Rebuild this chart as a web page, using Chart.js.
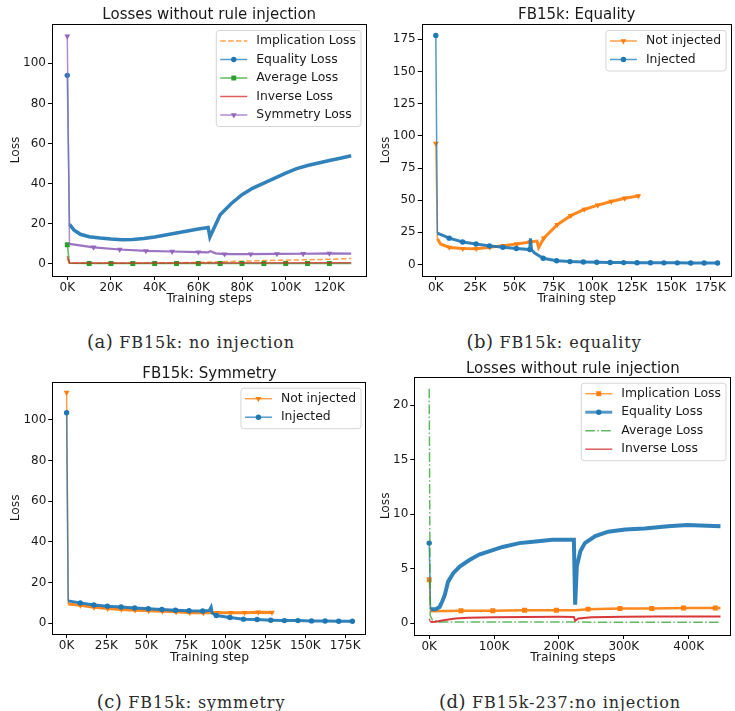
<!DOCTYPE html>
<html>
<head>
<meta charset="utf-8">
<script src="https://cdn.jsdelivr.net/npm/chart.js@4.4.1/dist/chart.umd.min.js"></script>
<style>
  body { margin: 0; background: #fff; width: 735px; height: 711px; position: relative; overflow: hidden; }
  canvas { position: absolute; }
  .cap { position: absolute; font-family: 'DejaVu Serif', 'Liberation Serif', serif; font-size: 16px; letter-spacing: 0.9px; color: #2a2a2a; white-space: nowrap; transform: translate(-50%, -50%); }
  .cap span { font-size: 18px; letter-spacing: 0.5px; }
</style>
</head>
<body>
<canvas id="chartA" width="370" height="312" style="left:0;top:0"></canvas>
<canvas id="chartB" width="365" height="312" style="left:370px;top:0"></canvas>
<canvas id="chartC" width="370" height="312" style="left:0;top:360px"></canvas>
<canvas id="chartD" width="365" height="312" style="left:370px;top:360px"></canvas>
<div class="cap" style="left:191px;top:341px"><span>(a)</span> FB15k: no injection</div>
<div class="cap" style="left:554px;top:341px"><span>(b)</span> FB15k: equality</div>
<div class="cap" style="left:191px;top:701px"><span>(c)</span> FB15k: symmetry</div>
<div class="cap" style="left:560px;top:701px"><span>(d)</span> FB15k-237:no injection</div>
<script>
// (a) FB15k, no injection
const aStepTicks = [0, 20000, 40000, 60000, 80000, 100000, 120000];
const aLossTicks = [0, 20, 40, 60, 80, 100];
const aImplicationSteps = [0, 1000, 20000, 40000, 50000, 60000, 70000, 80000, 90000, 100000, 110000, 120000, 130000];
const aImplicationLoss = [2.5, 0.3, 0.3, 0.45, 0.6, 0.75, 1.1, 1.4, 1.7, 1.9, 2.1, 2.35, 2.7];
const aEqualitySteps = [0, 1000, 3000, 6000, 10000, 15000, 20000, 25000, 30000, 35000, 40000, 45000, 50000, 55000, 60000, 64500, 65300, 70000, 75000, 80000, 85000, 90000, 95000, 100000, 105000, 110000, 115000, 120000, 125000, 130000];
const aEqualityLoss = [94, 19.8, 17, 14.8, 13.6, 12.9, 12.4, 12.1, 12.2, 12.7, 13.4, 14.4, 15.4, 16.4, 17.4, 18.2, 13.4, 24.5, 30, 34.5, 37.8, 40.3, 42.8, 45.3, 47.5, 49.1, 50.3, 51.6, 52.7, 53.9];
const aAverageSteps = [0, 1000, 10000, 20000, 30000, 40000, 50000, 60000, 70000, 80000, 90000, 100000, 110000, 120000, 130000];
const aAverageLoss = [9.6, 0.4, 0.2, 0.2, 0.2, 0.2, 0.2, 0.2, 0.2, 0.2, 0.2, 0.2, 0.2, 0.2, 0.2];
const aInverseSteps = [0, 1000, 30000, 130000];
const aInverseLoss = [3.8, 0.5, 0.5, 0.6];
const aSymmetrySteps = [0, 1000, 12000, 24000, 36000, 48000, 60000, 64500, 65500, 68000, 72000, 84000, 96000, 108000, 120000, 130000];
const aSymmetryLoss = [113.5, 10, 8.3, 7.2, 6.5, 6.2, 5.9, 5.8, 6.4, 5.3, 4.9, 4.9, 5.0, 5.1, 5.3, 5.2];

// (b) FB15k, equality
const bStepTicks = [0, 25000, 50000, 75000, 100000, 125000, 150000, 175000];
const bLossTicks = [0, 25, 50, 75, 100, 125, 150, 175];
const bNotInjectedSteps = [0, 1000, 3000, 8600, 17200, 25800, 34400, 43000, 51600, 60200, 64500, 65500, 68800, 77400, 86000, 94600, 103200, 111800, 120400, 129000, 130000];
const bNotInjectedLoss = [94, 20, 16, 13.3, 12.4, 12.3, 13.4, 14.7, 16.0, 17.6, 18.2, 13.2, 20.5, 31, 38, 42.8, 46.2, 49, 51.5, 53.3, 53.5];
const bInjectedSteps = [0, 1000, 8550, 17100, 25650, 34200, 42750, 51300, 59850, 60300, 61000, 63000, 68400, 76950, 85500, 94050, 102600, 111150, 119700, 128250, 136800, 145350, 153900, 162450, 171000, 179550];
const bInjectedLoss = [178, 24.5, 20.5, 17.5, 16, 14.5, 13.4, 12.5, 11.6, 20.4, 11.5, 9, 4.9, 3.0, 2.3, 2.0, 1.8, 1.6, 1.5, 1.4, 1.4, 1.3, 1.3, 1.2, 1.2, 1.2];

// (c) FB15k, symmetry
const cStepTicks = [0, 25000, 50000, 75000, 100000, 125000, 150000, 175000];
const cLossTicks = [0, 20, 40, 60, 80, 100];
const cNotInjectedSteps = [0, 1000, 8600, 17200, 25800, 34400, 43000, 51600, 60200, 68800, 77400, 86000, 94600, 103200, 111800, 120400, 129000, 130000];
const cNotInjectedLoss = [113.5, 9.5, 8.8, 7.8, 7.2, 6.8, 6.4, 6.1, 5.9, 5.6, 5.2, 5.1, 5.2, 5.2, 5.2, 5.4, 5.3, 5.3];
const cInjectedSteps = [0, 1000, 8550, 17100, 25650, 34200, 42750, 51300, 59850, 68400, 76950, 85500, 89500, 90800, 91500, 94050, 102600, 111150, 119700, 128250, 136800, 145350, 153900, 162450, 171000, 179550];
const cInjectedLoss = [103.5, 11, 10, 9, 8.4, 8.0, 7.5, 7.1, 6.8, 6.4, 6.1, 6.0, 6.2, 8, 5, 3.8, 2.8, 2.0, 1.8, 1.5, 1.3, 1.3, 1.15, 1.1, 1.0, 1.0];

// (d) FB15k-237, no injection
const dStepTicks = [0, 100000, 200000, 300000, 400000];
const dLossTicks = [0, 5, 10, 15, 20];
const dImplicationSteps = [0, 2000, 49000, 98000, 147000, 196000, 225000, 245000, 294000, 343000, 392000, 441000, 449000];
const dImplicationLoss = [4.0, 1.1, 1.15, 1.15, 1.2, 1.2, 1.2, 1.3, 1.35, 1.35, 1.4, 1.4, 1.4];
const dEqualitySteps = [0, 2000, 10000, 16000, 20000, 24000, 29000, 37000, 47000, 62000, 77000, 98000, 113000, 139000, 164000, 190000, 215000, 223000, 225000, 227500, 233000, 240000, 256000, 276000, 302000, 332000, 368000, 398000, 449000];
const dEqualityLoss = [7.35, 1.3, 1.3, 1.5, 2.0, 2.6, 3.8, 4.6, 5.2, 5.8, 6.3, 6.7, 7.0, 7.35, 7.5, 7.65, 7.65, 7.65, 1.7, 5.2, 6.6, 7.35, 8.0, 8.4, 8.6, 8.7, 8.9, 9.0, 8.9];
const dAverageSteps = [0, 1500, 5000, 15000, 449000];
const dAverageLoss = [21.5, 0.7, 0.3, 0.12, 0.1];
const dInverseSteps = [0, 2000, 10000, 20000, 40000, 60000, 100000, 150000, 200000, 223000, 225000, 230000, 250000, 300000, 350000, 449000];
const dInverseLoss = [0.45, 0.12, 0.15, 0.25, 0.45, 0.5, 0.55, 0.58, 0.6, 0.58, 0.25, 0.45, 0.55, 0.6, 0.62, 0.62];

const FONT = 'DejaVu Sans';
const TXT = '#1a1a1a';
const COL = { blue: '#1f77b4', orange: '#ff7f0e', green: '#2ca02c', red: '#d62728', purple: '#9467bd' };
// chart.js radius per marker shape, so they come out about the same size
const MARK_R = { circle: 2.7, rect: 3.5, triangle: 3.4 };

function fade(hex, a) {
  const n = parseInt(hex.slice(1), 16);
  return `rgba(${n >> 16},${(n >> 8) & 255},${n & 255},${a})`;
}

function pts(steps, loss) {
  return steps.map((s, i) => ({ x: s, y: loss[i] }));
}

// one matplotlib-like line; `band` is the width of the noisy part
function series(o) {
  const w = o.width || 1.5;
  const r = o.marker ? MARK_R[o.marker] : 0;
  const inBand = ctx => o.band && ctx.p0DataIndex > 0;
  return {
    label: o.label,
    data: pts(o.steps, o.loss),
    borderColor: fade(o.color, 0.75),
    backgroundColor: o.color,
    borderWidth: w,
    borderDash: o.dash || [],
    segment: {
      borderWidth: ctx => (inBand(ctx) ? o.band : w),
      borderColor: ctx => (inBand(ctx) ? fade(o.color, 0.92) : fade(o.color, 0.75))
    },
    pointStyle: o.marker || 'circle',
    pointRotation: o.rot || 0,
    pointRadius: ctx => (o.marker && ctx.raw && o.mark(ctx.raw.x) ? r : 0),
    pointBackgroundColor: o.color,
    pointBorderWidth: 0,
    pointHoverRadius: 0,
    tension: 0,
    leg: { color: o.color, dash: o.dash || [], marker: o.marker, rot: o.rot || 0, r, width: o.legWidth || w }
  };
}

function panel(id, p) {
  const n = p.series.length;
  const datasets = p.series.map((s, i) => Object.assign(series(s), { order: n - i }));

  const mplPlugin = {
    id: 'mpl',
    afterDraw(chart) {
      const { ctx, chartArea: a } = chart;
      ctx.save();
      // frame
      ctx.strokeStyle = '#000';
      ctx.lineWidth = 1;
      ctx.strokeRect(Math.round(a.left) + 0.5, Math.round(a.top) + 0.5, Math.round(a.right - a.left) - 1, Math.round(a.bottom - a.top));
      // title
      ctx.fillStyle = TXT;
      ctx.font = `15px "${FONT}"`;
      ctx.textAlign = 'center';
      ctx.textBaseline = 'middle';
      ctx.fillText(p.title, (a.left + a.right) / 2, p.titleY);
      // legend
      ctx.font = `12.4px "${FONT}"`;
      const items = datasets.map(d => ({ label: d.label, ...d.leg }));
      const tw = Math.max(...items.map(it => ctx.measureText(it.label).width));
      const rowH = 18.5;
      const bw = 4 + 27 + 9 + tw + 5;
      const bh = 22 + rowH * (items.length - 1);
      const bx = a.right - 5.5 - bw;
      const by = a.top + 6.5;
      ctx.beginPath();
      ctx.roundRect(bx, by, bw, bh, 3);
      ctx.fillStyle = 'rgba(255,255,255,0.8)';
      ctx.fill();
      ctx.strokeStyle = '#d5d5d5';
      ctx.stroke();
      items.forEach((it, i) => {
        const cy = by + 10.5 + rowH * i;
        const x0 = bx + 4;
        ctx.strokeStyle = fade(it.color, 0.75);
        ctx.lineWidth = it.width;
        ctx.setLineDash(it.dash);
        ctx.beginPath();
        ctx.moveTo(x0, cy);
        ctx.lineTo(x0 + 27, cy);
        ctx.stroke();
        ctx.setLineDash([]);
        if (it.marker) {
          ctx.fillStyle = it.color;
          Chart.helpers.drawPoint(ctx, { pointStyle: it.marker, rotation: it.rot, radius: it.r, borderWidth: 0 }, x0 + 13.5, cy);
        }
        ctx.fillStyle = TXT;
        ctx.textAlign = 'left';
        ctx.fillText(it.label, x0 + 36, cy);
      });
      ctx.restore();
    }
  };

  const tickFont = { family: FONT, size: 12 };
  const titleFont = { family: FONT, size: 12.3 };
  const fixTicks = vals => s => { s.ticks = vals.map(v => ({ value: v })); };

  return new Chart(document.getElementById(id), {
    type: 'line',
    data: { datasets },
    plugins: [mplPlugin],
    options: {
      responsive: false,
      animation: false,
      events: [],
      layout: { padding: { top: p.top, right: p.right, left: 0, bottom: 0 } },
      plugins: { legend: { display: false }, tooltip: { enabled: false }, title: { display: false } },
      scales: {
        x: {
          type: 'linear',
          min: p.xMin,
          max: p.xMax,
          afterBuildTicks: fixTicks(p.xTicks),
          afterFit: s => { s.height = p.xHeight; },
          ticks: {
            autoSkip: false,
            maxRotation: 0,
            padding: 1,
            color: TXT,
            font: tickFont,
            callback: v => v / 1000 + 'K'
          },
          grid: { drawOnChartArea: false, color: '#000', tickLength: 4, tickWidth: 1 },
          border: { display: false },
          title: { display: true, text: p.xTitle, color: TXT, font: titleFont, padding: { top: 0, bottom: p.xTitlePad } }
        },
        y: {
          type: 'linear',
          min: p.yMin,
          max: p.yMax,
          afterBuildTicks: fixTicks(p.yTicks),
          afterFit: s => { s.width = p.yWidth; },
          ticks: {
            autoSkip: false,
            padding: 2,
            color: TXT,
            font: tickFont
          },
          grid: { drawOnChartArea: false, color: '#000', tickLength: 4, tickWidth: 1 },
          border: { display: false },
          title: { display: true, text: 'Loss', color: TXT, font: titleFont, padding: { top: 8.5, bottom: 0 } }
        }
      }
    }
  });
}

panel('chartA', {
  title: 'Losses without rule injection', titleY: 15.5,
  top: 24, right: 1, xHeight: 36, yWidth: 52, xTitlePad: 5.5,
  xMin: -7000, xMax: 137000, xTicks: aStepTicks, xTitle: 'Training steps',
  yMin: -6, yMax: 119.6, yTicks: aLossTicks,
  series: [
    { label: 'Implication Loss', steps: aImplicationSteps, loss: aImplicationLoss, color: COL.orange, dash: [5.5, 2.4] },
    { label: 'Equality Loss', steps: aEqualitySteps, loss: aEqualityLoss, color: COL.blue, band: 3.5, marker: 'circle', mark: x => x === 0 },
    { label: 'Average Loss', steps: aAverageSteps, loss: aAverageLoss, color: COL.green, marker: 'rect', mark: x => x % 10000 === 0 && x <= 120000 },
    { label: 'Inverse Loss', steps: aInverseSteps, loss: aInverseLoss, color: COL.red },
    { label: 'Symmetry Loss', steps: aSymmetrySteps, loss: aSymmetryLoss, color: COL.purple, band: 2.2, marker: 'triangle', rot: 180, mark: x => x % 12000 === 0 }
  ]
});

panel('chartB', {
  title: 'FB15k: Equality', titleY: 15.5,
  top: 24, right: 1, xHeight: 36, yWidth: 51.7, xTitlePad: 5.5,
  xMin: -9000, xMax: 188500, xTicks: bStepTicks, xTitle: 'Training step',
  yMin: -8.9, yMax: 186.9, yTicks: bLossTicks,
  series: [
    { label: 'Not injected', steps: bNotInjectedSteps, loss: bNotInjectedLoss, color: COL.orange, band: 3, marker: 'triangle', rot: 180, mark: x => x % 8600 === 0 },
    { label: 'Injected', steps: bInjectedSteps, loss: bInjectedLoss, color: COL.blue, band: 3, marker: 'circle', mark: x => x % 8550 === 0 }
  ]
});

panel('chartC', {
  title: 'FB15k: Symmetry', titleY: 14,
  top: 21.7, right: 1, xHeight: 38, yWidth: 52.3, xTitlePad: 7,
  xMin: -9000, xMax: 188500, xTicks: cStepTicks, xTitle: 'Training step',
  yMin: -5.3, yMax: 118.8, yTicks: cLossTicks,
  series: [
    { label: 'Not injected', steps: cNotInjectedSteps, loss: cNotInjectedLoss, color: COL.orange, band: 3, marker: 'triangle', rot: 180, mark: x => x % 8600 === 0 },
    { label: 'Injected', steps: cInjectedSteps, loss: cInjectedLoss, color: COL.blue, band: 3, marker: 'circle', mark: x => x % 8550 === 0 }
  ]
});

panel('chartD', {
  title: 'Losses without rule injection', titleY: 9.3,
  top: 16.7, right: 1, xHeight: 37, yWidth: 44.3, xTitlePad: 7,
  xMin: -23000, xMax: 466000, xTicks: dStepTicks, xTitle: 'Training steps',
  yMin: -1.07, yMax: 22.6, yTicks: dLossTicks,
  series: [
    { label: 'Implication Loss', steps: dImplicationSteps, loss: dImplicationLoss, color: COL.orange, band: 2.5, marker: 'rect', mark: x => x % 49000 === 0 },
    { label: 'Equality Loss', steps: dEqualitySteps, loss: dEqualityLoss, color: COL.blue, band: 4, legWidth: 3, marker: 'circle', mark: x => x === 0 },
    { label: 'Average Loss', steps: dAverageSteps, loss: dAverageLoss, color: COL.green, dash: [9.6, 2.4, 1.5, 2.4] },
    { label: 'Inverse Loss', steps: dInverseSteps, loss: dInverseLoss, color: COL.red, band: 2 }
  ]
});
</script>
</body>
</html>
